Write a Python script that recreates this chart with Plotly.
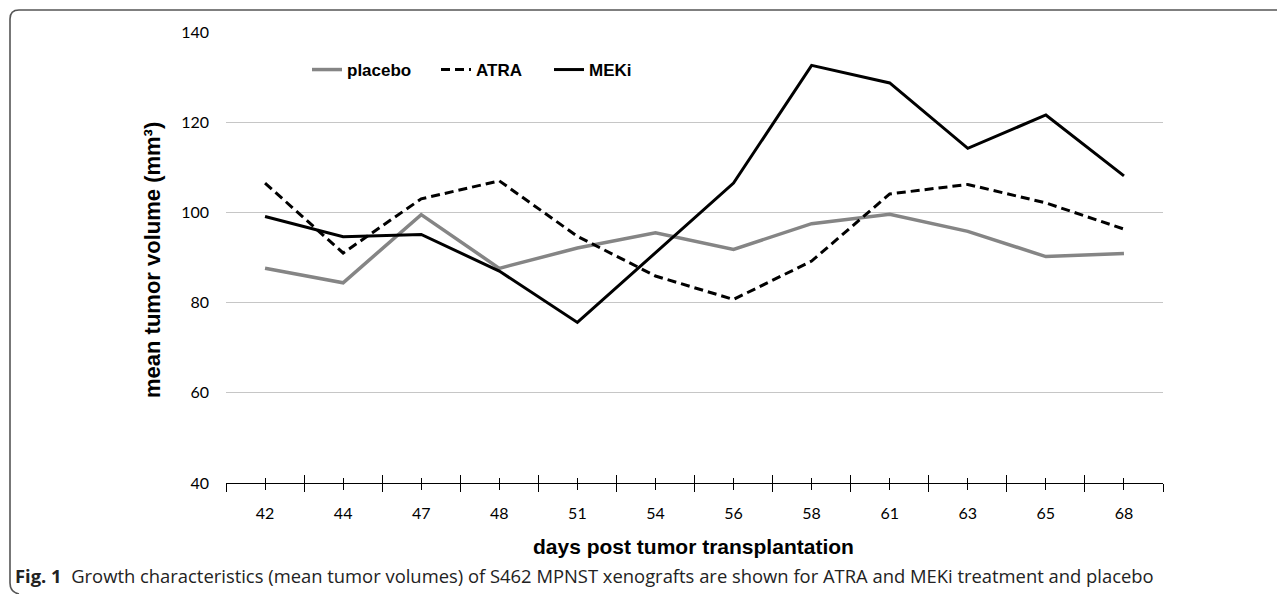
import plotly.graph_objects as go

days = ["42", "44", "47", "48", "51", "54", "56", "58", "61", "63", "65", "68"]
placebo = [87.6, 84.4, 99.5, 87.6, 92.1, 95.5, 91.8, 97.5, 99.6, 95.8, 90.2, 90.9]
atra = [106.5, 91.0, 103.0, 107.0, 94.7, 85.9, 80.7, 89.2, 104.1, 106.2, 102.1, 96.3]
meki = [99.1, 94.6, 95.1, 87.0, 75.6, 91.0, 106.5, 132.6, 128.7, 114.2, 121.6, 108.1]
y_ticks = [40, 60, 80, 100, 120, 140]

idx = list(range(len(days)))
bounds = [i - 0.5 for i in range(len(days) + 1)]

OFF = 8  # default page body margin
W, H = 1285 - OFF, 594 - OFF
PL, PR, PT, PB = 226, 1163, 32, 483  # plot area in page pixels
L, R, T, B = PL - OFF, W - (PR - OFF), PT - OFF, H - (PB - OFF)
pw, ph = W - L - R, H - T - B

def px(x):
    return (x - OFF - L) / pw

def py(y):
    return (H - B - (y - OFF)) / ph

fig = go.Figure()
fig.add_trace(go.Scatter(x=idx, y=placebo, name="placebo", mode="lines", legend="legend",
                         line=dict(color="#858585", width=3.5)))
fig.add_trace(go.Scatter(x=idx, y=atra, name="ATRA", mode="lines", legend="legend2",
                         line=dict(color="#000000", width=3, dash="9px,5px")))
fig.add_trace(go.Scatter(x=idx, y=meki, name="MEKi", mode="lines", legend="legend3",
                         line=dict(color="#000000", width=3)))
# invisible trace on the overlay axis to carry the upward ticks
fig.add_trace(go.Scatter(x=[idx[0]], y=[meki[0]], xaxis="x2", mode="markers",
                         marker=dict(opacity=0), showlegend=False, hoverinfo="skip"))

tickfont = dict(family="Lato", size=16, color="#000000")
legfont = dict(family="Liberation Sans", size=17, color="black", weight="bold")

def leg(xpage):
    return dict(orientation="h", x=px(xpage), y=py(70), xanchor="left", yanchor="middle",
                font=legfont, bgcolor="rgba(0,0,0,0)", borderwidth=0)

fig.update_layout(
    width=W, height=H,
    margin=dict(l=L, r=R, t=T, b=B),
    paper_bgcolor="white", plot_bgcolor="white",
    xaxis=dict(range=[-0.5, len(days) - 0.5], tickmode="array", tickvals=idx, ticktext=days,
               ticks="outside", ticklen=5.5, tickwidth=1.3, tickcolor="black",
               minor=dict(tickmode="array", tickvals=bounds, ticks="outside", ticklen=8,
                          tickwidth=1.3, tickcolor="black", showgrid=False),
               showline=True, linecolor="black", linewidth=1.3, showgrid=False,
               zeroline=False, tickfont=tickfont, ticklabelstandoff=10),
    xaxis2=dict(range=[-0.5, len(days) - 0.5], overlaying="x", anchor="y", side="bottom",
                tickmode="array", tickvals=idx, ticks="inside", ticklen=5.5, tickwidth=1.3,
                tickcolor="black",
                minor=dict(tickmode="array", tickvals=bounds, ticks="inside", ticklen=8,
                           tickwidth=1.3, tickcolor="black", showgrid=False),
                showticklabels=False, showline=False, showgrid=False, zeroline=False),
    yaxis=dict(range=[40, 140], tickmode="array", tickvals=y_ticks, ticks="",
               showline=False, showgrid=True, gridcolor="#c6c6c6", gridwidth=1,
               zeroline=False, tickfont=tickfont, ticklabelstandoff=16),
    legend=leg(307), legend2=leg(436), legend3=leg(549),
    showlegend=True,
)

fig.add_annotation(text="mean tumor volume (mm³)", xref="paper", yref="paper",
                   x=px(152), y=py(260), textangle=-90, showarrow=False,
                   xanchor="center", yanchor="middle",
                   font=dict(family="Liberation Sans", size=22, color="black", weight="bold"))
fig.add_annotation(text="days post tumor transplantation", xref="paper", yref="paper",
                   x=px(693), y=py(546), showarrow=False, xanchor="center", yanchor="middle",
                   font=dict(family="Liberation Sans", size=21, color="black", weight="bold"))
fig.add_annotation(text="<b>Fig. 1</b>  Growth characteristics (mean tumor volumes) of S462 MPNST xenografts are shown for ATRA and MEKi treatment and placebo",
                   xref="paper", yref="paper", x=px(13), y=py(575), showarrow=False,
                   xanchor="left", yanchor="middle",
                   font=dict(family="Open Sans", size=18.4, color="#222222"))

# rounded frame
r = 9
x0, y0, y1 = 10, 10, 592
path = (f"M {px(1300)},{py(y0)} L {px(x0 + r)},{py(y0)} "
        f"Q {px(x0)},{py(y0)} {px(x0)},{py(y0 + r)} "
        f"L {px(x0)},{py(y1 - r)} Q {px(x0)},{py(y1)} {px(x0 + r)},{py(y1 + 2)}")
fig.add_shape(type="path", path=path, xref="paper", yref="paper",
              line=dict(color="#555555", width=1.6), layer="above")

fig.write_html("out.html")
